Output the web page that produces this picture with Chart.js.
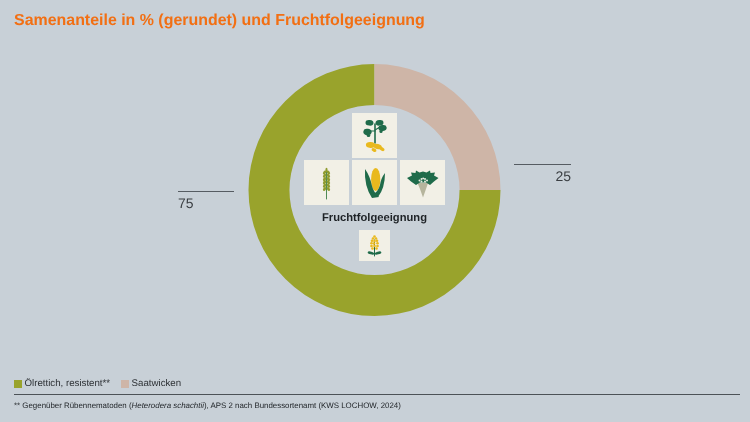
<!DOCTYPE html>
<html lang="de">
<head>
<meta charset="utf-8">
<title>Samenanteile</title>
<script src="https://cdn.jsdelivr.net/npm/chart.js@4"></script>
<style>
html, body { margin: 0; padding: 0; background: #c8d0d7; }
body { position: relative; width: 750px; height: 422px; overflow: hidden; font-family: "Liberation Sans", Arial, sans-serif; color: #3a3e42; text-rendering: geometricPrecision; }
canvas { position: absolute; left: 0; top: 0; }
.txt { position: absolute; white-space: nowrap; line-height: 1; }
#title { left: 14px; top: 13px; font-size: 15.95px; font-weight: bold; color: #f26f13; }
#centerLabel { left: 274px; width: 201px; text-align: center; top: 213px; font-size: 11.2px; font-weight: bold; color: #1e2226; }
#valueLeft { left: 178px; top: 196px; font-size: 14px; }
#valueRight { right: 179px; top: 169px; font-size: 14px; }
#legend { position: absolute; left: 14px; top: 378px; display: flex; font-size: 9.7px; line-height: 11px; color: #2c3034; }
#legend span.item { display: flex; align-items: center; margin-right: 11px; }
#legend i { display: inline-block; width: 8px; height: 8px; margin-right: 2.5px; }
#rule { position: absolute; left: 14px; top: 394px; width: 726px; height: 1px; background: #4c5257; }
#note { left: 14px; top: 401.5px; font-size: 7.9px; color: #1e2226; }
</style>
</head>
<body>
<canvas id="donut" width="750" height="422"></canvas>
<div class="txt" id="title">Samenanteile in % (gerundet) und Fruchtfolgeeignung</div>
<div class="txt" id="centerLabel">Fruchtfolgeeignung</div>
<div class="txt" id="valueLeft"></div>
<div class="txt" id="valueRight"></div>
<div id="legend"></div>
<div id="rule"></div>
<div class="txt" id="note">** Gegenüber Rübennematoden (<em>Heterodera schachtii</em>), APS 2 nach Bundessortenamt (KWS LOCHOW, 2024)</div>

<script>
// data
const categories = ["Ölrettich, resistent**", "Saatwicken"];
const shares = [75, 25];
const colors = ["#99a32c", "#ceb5a7"];

const GREEN = "#1f6b4a";
const YELLOW = "#e9b91e";
const TILE = "#f2f0e6";

// values and legend
document.getElementById("valueLeft").innerText = shares[0];
document.getElementById("valueRight").innerText = shares[1];
document.getElementById("legend").innerHTML = categories.map((c, i) =>
    `<span class="item"><i style="background:${colors[i]}"></i>${c}</span>`).join("");

// small drawing helpers for the icons
function oval(ctx, x, y, rx, ry, rot, color) {
    ctx.fillStyle = color;
    ctx.beginPath();
    ctx.ellipse(x, y, rx, ry, rot || 0, 0, Math.PI * 2);
    ctx.fill();
}

function stem(ctx, x1, y1, x2, y2, w, color) {
    ctx.strokeStyle = color;
    ctx.lineWidth = w;
    ctx.beginPath();
    ctx.moveTo(x1, y1);
    ctx.lineTo(x2, y2);
    ctx.stroke();
}

function shape(ctx, color, pts) {
    ctx.fillStyle = color;
    ctx.beginPath();
    pts.forEach((p, i) => i ? ctx.lineTo(p[0], p[1]) : ctx.moveTo(p[0], p[1]));
    ctx.closePath();
    ctx.fill();
}

function drawPotato(ctx) {
    stem(ctx, 375, 124, 375, 143, 1.6, GREEN);
    stem(ctx, 375, 131, 370, 131, 1.2, GREEN);
    stem(ctx, 375, 130, 380, 127, 1.2, GREEN);
    // leaf clusters
    oval(ctx, 369.5, 122.8, 4, 2.8, 0.1, GREEN);
    oval(ctx, 379.5, 122.8, 4, 2.8, -0.1, GREEN);
    oval(ctx, 367.5, 132, 4.2, 3.2, 0.2, GREEN);
    oval(ctx, 368.5, 135.5, 1.8, 1.6, 0, GREEN);
    oval(ctx, 382.5, 128, 4.2, 3, -0.2, GREEN);
    oval(ctx, 381, 131.5, 1.6, 1.5, 0, GREEN);
    // tubers
    oval(ctx, 370.5, 145, 4.6, 2.9, 0.05, YELLOW);
    oval(ctx, 377.5, 146.5, 4.4, 2.5, 0.3, YELLOW);
    oval(ctx, 374, 150, 2.6, 1.7, 0.5, YELLOW);
    oval(ctx, 382, 149, 2.8, 1.7, 0.5, YELLOW);
}

function drawWheat(ctx) {
    stem(ctx, 326.5, 170, 326.5, 199, 1, "#4f8a55");
    for (let k = 0; k < 6; k++) {
        const y = 172.5 + k * 3.3;
        oval(ctx, 324.6, y, 1.4, 2.2, 0.6, "#8f9c30");
        oval(ctx, 328.4, y, 1.4, 2.2, -0.6, "#8f9c30");
    }
    oval(ctx, 326.5, 170, 1.1, 2.2, 0, "#8f9c30");
}

function drawCorn(ctx) {
    oval(ctx, 375.7, 179.5, 4.6, 11.5, 0, YELLOW);
    // left husk
    ctx.fillStyle = GREEN;
    ctx.beginPath();
    ctx.moveTo(365, 169);
    ctx.quadraticCurveTo(370, 176, 372, 186);
    ctx.quadraticCurveTo(373.5, 192, 379, 197);
    ctx.lineTo(372, 198);
    ctx.quadraticCurveTo(364, 186, 365, 169);
    ctx.fill();
    // right husk
    ctx.beginPath();
    ctx.moveTo(385, 173);
    ctx.quadraticCurveTo(385, 188, 378, 197);
    ctx.lineTo(373, 194);
    ctx.quadraticCurveTo(378, 192, 380, 185);
    ctx.quadraticCurveTo(381, 178, 385, 173);
    ctx.fill();
}

function drawBeet(ctx) {
    // root
    shape(ctx, "#b6b59d", [[417.5, 183], [428, 183], [426, 189], [423, 197.5], [420, 189]]);
    // leaves, a fan from the crown
    shape(ctx, GREEN, [[407, 178], [412, 175.5], [411, 172.5], [415.5, 173], [416, 170.5], [419.5, 172.5], [423, 171.5],
        [426.5, 172.5], [430, 170.5], [430.5, 173], [435, 172.5], [434, 175.5], [438.5, 178], [434, 181.5], [430, 185],
        [426, 182.5], [420, 182.5], [416, 185], [411, 181.5]]);
    // pale heart of the crown
    [[419.5, 180.5], [421.5, 179], [423.2, 178.4], [425, 179], [427, 180.5], [421.5, 181.5], [425, 181.5]
    ].forEach(p => oval(ctx, p[0], p[1], 1, 0.9, 0, "#e8ebe0"));
}

function drawRape(ctx) {
    stem(ctx, 374.5, 240, 374.5, 256, 1, GREEN);
    oval(ctx, 371, 253, 3.4, 1.4, 0.25, GREEN);
    oval(ctx, 378, 253, 3.4, 1.4, -0.25, GREEN);
    [[374.5, 236.5], [373, 238.5], [376, 238.5], [372, 240.8], [374.5, 241], [377, 240.8],
     [371.5, 243.3], [374, 243.5], [377.5, 243.3], [371.5, 246], [374.5, 246], [377.5, 246], [372.5, 248.5], [376.5, 248.5]
    ].forEach(p => oval(ctx, p[0], p[1], 1.3, 1.3, 0, YELLOW));
}

// tiles and icons inside the ring, plus the leader lines to the values
const decorPlugin = {
    id: "decor",
    afterDraw(chart) {
        const { ctx } = chart;
        ctx.save();

        ctx.fillStyle = TILE;
        [[352, 113, 45], [304, 160, 45], [352, 160, 45], [400, 160, 45], [359, 230, 31]].forEach(t => {
            ctx.fillRect(t[0], t[1], t[2], t[2]);
        });

        ctx.lineCap = "round";
        drawPotato(ctx);
        drawWheat(ctx);
        drawCorn(ctx);
        drawBeet(ctx);
        drawRape(ctx);

        ctx.lineCap = "butt";
        stem(ctx, 178, 191.5, 234, 191.5, 1, "#565c62");
        stem(ctx, 514, 164.5, 571, 164.5, 1, "#565c62");

        ctx.restore();
    }
};

new Chart(document.getElementById("donut"), {
    type: "doughnut",
    data: {
        labels: categories,
        datasets: [{
            data: shares,
            backgroundColor: colors,
            borderWidth: 0
        }]
    },
    options: {
        responsive: false,
        animation: false,
        rotation: 90,
        cutout: "67.5%",
        layout: { padding: { left: 248.5, right: 249.5, top: 64, bottom: 106 } },
        plugins: { legend: { display: false }, tooltip: { enabled: false } }
    },
    plugins: [decorPlugin]
});
</script>
</body>
</html>
